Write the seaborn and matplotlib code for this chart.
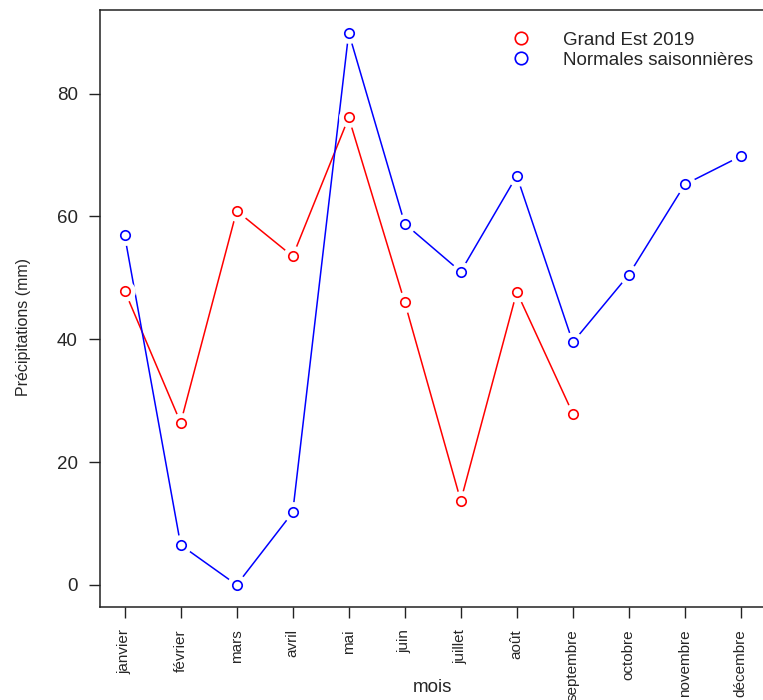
import numpy as np
import pandas as pd
import matplotlib
matplotlib.use("Agg")
import matplotlib.pyplot as plt
import seaborn as sns
from matplotlib.lines import Line2D

mois = ["janvier", "février", "mars", "avril", "mai", "juin", "juillet",
        "août", "septembre", "octobre", "novembre", "décembre"]
grand_est_2019 = [47.9, 26.4, 60.9, 53.5, 76.1, 46.0, 13.7, 47.7, 27.9,
                  np.nan, np.nan, np.nan]
normales = [56.9, 6.5, 0.0, 11.8, 89.9, 58.8, 51.0, 66.6, 39.5, 50.5, 65.2, 69.8]
series = ["Grand Est 2019", "Normales saisonnières"]
colors = {"Grand Est 2019": "#FF0000", "Normales saisonnières": "#0000FF"}

idx = np.arange(1, len(mois) + 1)
df = pd.concat([
    pd.DataFrame({"idx": idx, "mois": mois, "valeur": grand_est_2019, "serie": series[0]}),
    pd.DataFrame({"idx": idx, "mois": mois, "valeur": normales, "serie": series[1]}),
]).dropna()

sns.set_style("ticks")
plt.rcParams["font.family"] = ["Liberation Sans", "DejaVu Sans"]

fig = plt.figure(figsize=(7.63, 7.00), dpi=100)
ax = fig.add_axes([100 / 763, 1 - 607 / 700, 665.5 / 763, 597 / 700])

# lines
sns.lineplot(data=df, x="idx", y="valeur", hue="serie", palette=colors,
             linewidth=1.1, legend=False, ax=ax, zorder=2, sort=True)
n_lines = len(ax.lines)
# white disks to emulate R type="b" gaps
sns.lineplot(data=df, x="idx", y="valeur", hue="serie",
             palette={s: "white" for s in series}, linestyle="none",
             marker="o", markersize=15, markeredgewidth=0,
             legend=False, ax=ax, zorder=3)
n_white = len(ax.lines)
# hollow circle markers
sns.lineplot(data=df, x="idx", y="valeur", hue="serie", palette=colors,
             linestyle="none", marker="o", markersize=6.8,
             markeredgewidth=1.2,
             legend=False, ax=ax, zorder=4)
for ln in ax.lines[n_white:]:
    ln.set_markeredgecolor(ln.get_color())
    ln.set_markerfacecolor("none")
for ln in ax.lines[n_lines:n_white]:
    ln.set_markerfacecolor("white")
    ln.set_markeredgecolor("white")

ax.set_xlim(0.56, 12.44)
ax.set_ylim(-3.6, 93.6)
ax.set_xticks(idx)
ax.set_xticklabels(mois, rotation=90, fontsize=11)
ax.set_yticks([0, 20, 40, 60, 80])
ax.set_yticklabels(["0", "20", "40", "60", "80"], fontsize=13.5)
ax.tick_params(axis="both", direction="out", length=8, width=1, color="#222222")
ax.tick_params(axis="y", pad=8)
ax.tick_params(axis="x", pad=8)
ax.set_xlabel("mois", fontsize=13.5)
ax.xaxis.set_label_coords(0.5, -(679 - 607) / 597)
ax.set_ylabel("Précipitations (mm)", fontsize=11.5)
ax.yaxis.set_label_coords(-(100 - 31) / 665.5, (607 - 327) / 597)
for sp in ax.spines.values():
    sp.set_visible(True)
    sp.set_color("#222222")
    sp.set_linewidth(1.1)

handles = [Line2D([], [], linestyle="none", marker="o", markersize=9,
                  markerfacecolor="none", markeredgecolor=colors[s],
                  markeredgewidth=1.2) for s in series]
ax.legend(handles, series, loc="upper left", bbox_to_anchor=(0.608, 0.9765),
          frameon=False, fontsize=13.5, handlelength=1.0, handletextpad=1.74,
          labelspacing=0.15, borderaxespad=0)

fig.savefig("out.png", dpi=100)
